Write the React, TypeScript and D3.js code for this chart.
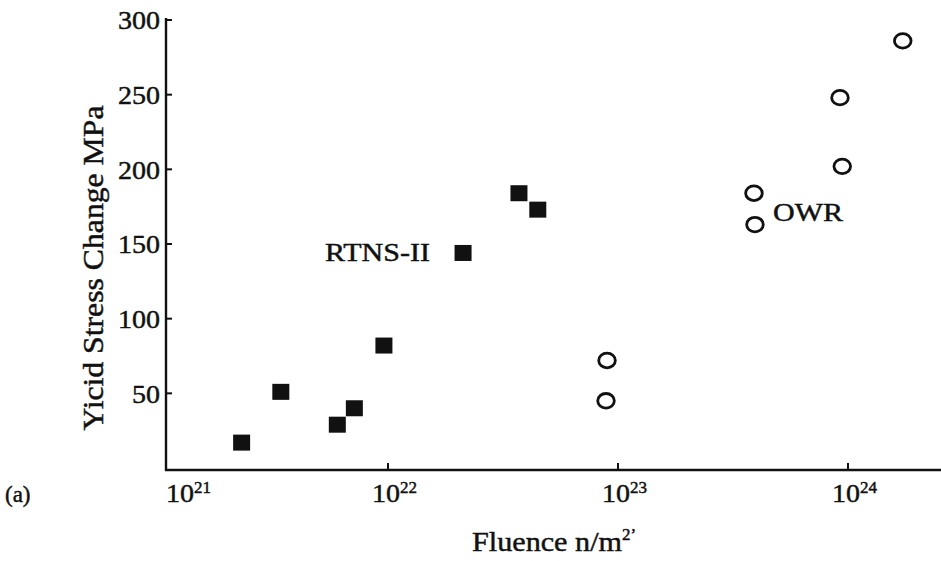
import React from "react";
import * as d3 from "d3";

const rtnsFluence = [2.31e21, 3.42e21, 6.02e21, 7.14e21, 9.6e21, 2.12e22, 3.71e22, 4.48e22];
const rtnsStress = [17, 51, 29, 40, 82, 144, 184, 173];
const owrFluence = [8.87e22, 8.96e22, 3.9e23, 3.94e23, 9.44e23, 9.23e23, 1.73e24];
const owrStress = [45, 72, 184, 163, 202, 248, 286];
const yTickValues = [50, 100, 150, 200, 250, 300];
const xTickExponents = [21, 22, 23, 24];

const W = 941;
const H = 561;
const FONT = "'Liberation Serif', 'DejaVu Serif', serif";
const INK = "#111";
const TXT = { fontFamily: FONT, fill: INK, stroke: INK, strokeWidth: 0.45 };

export default function App() {
  const x = d3.scaleLog().domain([1e21, 1e24]).range([158, 848]);
  const y = d3.scaleLinear().domain([0, 300]).range([468, 20]);
  const axisX = 166;
  const axisY = 470;

  const rtns = rtnsFluence.map((f, i) => ({ f, s: rtnsStress[i] }));
  const owr = owrFluence.map((f, i) => ({ f, s: owrStress[i] }));

  return (
    <svg width={W} height={H} style={{ position: "absolute", left: 0, top: 0, background: "#fff" }}>
      <rect x={0} y={0} width={W} height={H} fill="#fff" />
      {/* axes */}
      <line x1={axisX} y1={y(300) - 2} x2={axisX} y2={axisY + 1} stroke={INK} strokeWidth={2.4} />
      <line x1={axisX - 1} y1={axisY} x2={W} y2={axisY} stroke={INK} strokeWidth={2.4} />
      {/* y ticks */}
      {yTickValues.map((v) => (
        <g key={v}>
          <line x1={axisX} x2={axisX + 6} y1={y(v)} y2={y(v)} stroke={INK} strokeWidth={2} />
          <text
            x={160}
            y={y(v)}
            dy="0.36em"
            textAnchor="end"
            fontSize={26}
            {...TXT}
            textLength={String(v).length * 14}
            lengthAdjust="spacingAndGlyphs"
          >
            {v}
          </text>
        </g>
      ))}
      {/* x ticks */}
      {xTickExponents.map((e) => {
        const px = x(Math.pow(10, e));
        const start = Math.max(axisX, px - 16);
        return (
          <g key={e}>
            {px > axisX + 2 && (
              <line x1={px} x2={px} y1={axisY} y2={axisY - 7} stroke={INK} strokeWidth={2} />
            )}
            <text x={start} y={502} fontSize={26} {...TXT}>
              <tspan textLength={28} lengthAdjust="spacingAndGlyphs">10</tspan>
              <tspan dy={-9} fontSize={17}>{e}</tspan>
            </text>
          </g>
        );
      })}
      {/* axis titles */}
      <text
        transform="translate(103,268) rotate(-90)"
        textAnchor="middle"
        fontSize={29}
        {...TXT}
        textLength={325}
        lengthAdjust="spacingAndGlyphs"
      >
        Yicid Stress Change MPa
      </text>
      <text x={472} y={551} fontSize={27} {...TXT}>
        <tspan textLength={150} lengthAdjust="spacingAndGlyphs">Fluence n/m</tspan>
        <tspan dy={-11} fontSize={17}>2ʼ</tspan>
      </text>
      <text x={5} y={502} fontSize={23} {...TXT}>
        (a)
      </text>
      {/* RTNS-II squares */}
      {rtns.map((d, i) => (
        <rect key={i} x={x(d.f) - 8.5} y={y(d.s) - 8} width={17} height={16} fill={INK} />
      ))}
      {/* OWR circles */}
      {owr.map((d, i) => (
        <ellipse key={i} cx={x(d.f)} cy={y(d.s)} rx={8.3} ry={7.3} fill="none" stroke={INK} strokeWidth={2.8} />
      ))}
      {/* labels */}
      <text x={325} y={261} fontSize={25} {...TXT} textLength={105} lengthAdjust="spacingAndGlyphs">
        RTNS-II
      </text>
      <text x={773} y={221} fontSize={25} {...TXT} textLength={70} lengthAdjust="spacingAndGlyphs">
        OWR
      </text>
    </svg>
  );
}
